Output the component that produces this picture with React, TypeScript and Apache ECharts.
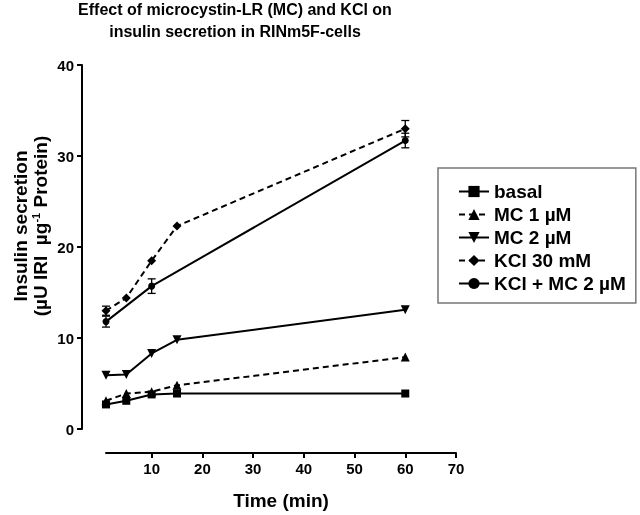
import React, { useEffect, useRef } from "react";
import * as echarts from "echarts";

const times = [1, 5, 10, 15, 60];
const basal = [2.7, 3.1, 3.8, 3.9, 3.9];
const mc1 = [3.1, 3.9, 4.1, 4.8, 7.9];
const mc2 = [5.9, 6.0, 8.3, 9.8, 13.1];
const kcl30 = [13.0, 14.4, 18.5, 22.3, 33.0];
const kclMc = [11.8, null, 15.7, null, 31.7];
const kcl30Err = [0.5, 0, 0, 0, 0.9];
const kclMcErr = [0.6, 0, 0.8, 0, 0.8];
const xTicks = [10, 20, 30, 40, 50, 60, 70];
const seriesNames = ["basal", "MC 1 µM", "MC 2 µM", "KCl 30 mM", "KCl + MC 2 µM"];

const FONT = "Liberation Sans, Arial, sans-serif";

export default function App() {
  const ref = useRef<HTMLDivElement>(null);
  useEffect(() => {
    if (!ref.current) return;
    const chart = echarts.init(ref.current, null, { renderer: "svg" });
    const pair = (vals: (number | null)[]) => times.map((t, i) => [t, vals[i]]);
    const errData = (vals: (number | null)[], errs: number[]) =>
      times
        .map((t, i) => (errs[i] > 0 && vals[i] != null ? [t, (vals[i] as number) - errs[i], (vals[i] as number) + errs[i]] : null))
        .filter((d) => d !== null);
    const lineBase = (name: string, data: any, symbol: string, size: number, dashed: boolean, extra: any = {}) => ({
      type: "line",
      name,
      data,
      symbol,
      symbolSize: size,
      connectNulls: true,
      itemStyle: { color: "#000" },
      lineStyle: { color: "#000", width: 2, type: dashed ? [6, 4] : "solid" },
      z: 3,
      ...extra,
    });
    const errSeries = (data: any) => ({
      type: "custom",
      data,
      z: 4,
      renderItem: (_p: any, api: any) => {
        const x = api.value(0);
        const lo = api.coord([x, api.value(1)]);
        const hi = api.coord([x, api.value(2)]);
        const w = 4;
        const st = { stroke: "#000", lineWidth: 1.3 };
        return {
          type: "group",
          children: [
            { type: "line", shape: { x1: lo[0], y1: lo[1], x2: hi[0], y2: hi[1] }, style: st },
            { type: "line", shape: { x1: lo[0] - w, y1: lo[1], x2: lo[0] + w, y2: lo[1] }, style: st },
            { type: "line", shape: { x1: hi[0] - w, y1: hi[1], x2: hi[0] + w, y2: hi[1] }, style: st },
          ],
        };
      },
    });
    chart.setOption({
      animation: false,
      textStyle: { fontFamily: FONT },
      title: {
        text: "Effect of microcystin-LR (MC) and KCl on\ninsulin secretion in RINm5F-cells",
        left: 235,
        textAlign: "center",
        top: -2,
        padding: 0,
        textStyle: { fontFamily: FONT, fontSize: 16, fontWeight: "bold", lineHeight: 22, color: "#000" },
      },
      grid: { left: 106, right: 184, top: 65, bottom: 85 },
      legend: {
        orient: "vertical",
        left: 438,
        top: 168,
        data: seriesNames,
        itemWidth: 30,
        itemHeight: 14,
        itemGap: 4,
        padding: [14, 10, 10, 20],
        borderColor: "#777",
        borderWidth: 1.5,
        textStyle: { fontFamily: FONT, fontSize: 19, fontWeight: "bold", color: "#000", lineHeight: 19 },
      },
      xAxis: {
        type: "value",
        min: 1,
        max: 70,
        offset: 24,
        name: "Time (min)",
        nameLocation: "middle",
        nameGap: 38,
        nameTextStyle: { fontFamily: FONT, fontSize: 19, fontWeight: "bold", color: "#000" },
        axisLine: { onZero: false, lineStyle: { color: "#000", width: 2 } },
        axisTick: { show: true, length: 5, lineStyle: { color: "#000", width: 2 }, customValues: xTicks },
        axisLabel: { customValues: xTicks, fontFamily: FONT, fontSize: 15, fontWeight: "bold", color: "#000", margin: 8 },
        splitLine: { show: false },
      },
      yAxis: {
        type: "value",
        min: 0,
        max: 40,
        interval: 10,
        offset: 24,
        axisLine: { show: true, onZero: false, lineStyle: { color: "#000", width: 2 } },
        axisTick: { show: true, length: 5, lineStyle: { color: "#000", width: 2 } },
        axisLabel: { fontFamily: FONT, fontSize: 15, fontWeight: "bold", color: "#000", margin: 8 },
        splitLine: { show: false },
      },
      graphic: [
        {
          type: "text",
          x: 30,
          y: 226,
          rotation: Math.PI / 2,
          style: {
            text: "Insulin secretion\n(µU IRI  µg{sup|-1} Protein)",
            align: "center",
            verticalAlign: "middle",
            fontFamily: FONT,
            fontSize: 19,
            fontWeight: "bold",
            lineHeight: 20,
            fill: "#000",
            rich: {
              sup: { fontSize: 11, fontWeight: "bold", fontFamily: FONT, verticalAlign: "top", lineHeight: 12, fill: "#000" },
            },
          },
        },
      ],
      series: [
        lineBase(seriesNames[0], pair(basal), "rect", 8, false),
        lineBase(seriesNames[1], pair(mc1), "triangle", 9, true),
        lineBase(seriesNames[2], pair(mc2), "triangle", 9, false, { symbolRotate: 180 }),
        lineBase(seriesNames[3], pair(kcl30), "diamond", 9, true),
        lineBase(seriesNames[4], pair(kclMc), "circle", 7, false),
        errSeries(errData(kcl30, kcl30Err)),
        errSeries(errData(kclMc, kclMcErr)),
      ],
    });
    return () => chart.dispose();
  }, []);
  return <div ref={ref} style={{ position: "fixed", left: 0, top: 0, width: 640, height: 515 }} />;
}
